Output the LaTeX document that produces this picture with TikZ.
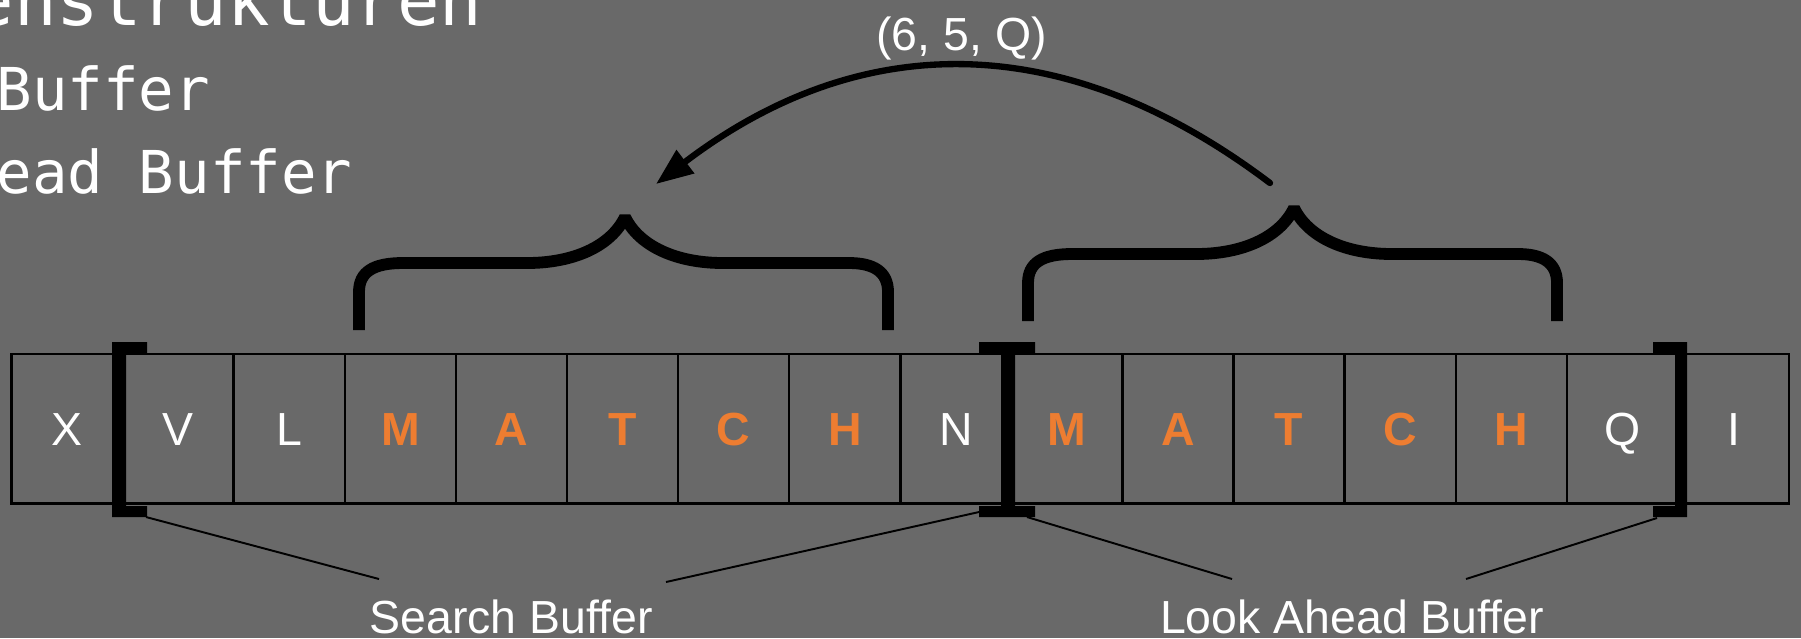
\documentclass[tikz,border=0pt]{standalone}
\usepackage{fontspec}
\setmainfont{Liberation Sans}
\newfontfamily\codefont{DejaVu Sans Mono}
\usetikzlibrary{arrows.meta}
\definecolor{bggray}{RGB}{105,105,105}
\definecolor{hlorange}{RGB}{237,125,49}
\begin{document}
\begin{tikzpicture}[x=0.01cm,y=-0.01cm,
  cell/.style={draw=black,line width=0.7pt,minimum width=1.111cm,minimum height=1.495cm,inner sep=0pt,text height=0.333cm,text depth=0pt,font=\fontsize{13.2}{15}\selectfont,text=white},
  hl/.style={text=hlorange,font=\fontsize{13.2}{15}\selectfont\bfseries},
  lbl/.style={text=white,font=\fontsize{13.2}{15}\selectfont,inner sep=0pt,anchor=base},
  mono/.style={text=white,inner sep=0pt,anchor=base west},
  leader/.style={draw=black,line width=0.55pt},
  bracketfill/.style={fill=black},
  bracestyle/.style={draw=black,line width=3.36pt,line join=bevel},
  arrowstyle/.style={draw=black,line width=1.8pt,line cap=round,-{Triangle[length=0.37cm,width=0.28cm]}},
  curly/.pic={\draw[bracestyle] (0,0) -- (0,-38) .. controls (0,-58) and (14,-67) .. (44,-67) -- (168,-67) .. controls (215,-67) and (252,-84) .. (266,-113) .. controls (280,-84) and (317,-67) .. (364,-67) -- (490,-67) .. controls (515,-67) and (529,-58) .. (529,-38) -- (529,0);}
]
\useasboundingbox (0,0) rectangle (1801,638);
\clip (0,0) rectangle (1801,638);
\fill[bggray] (0,0) rectangle (1801,638);

% heading text (cut at the edge)
\node[mono,font=\codefont\fontsize{20.1}{24}\selectfont] (h0) at (-29,25) {enstrukturen};
\node[mono,font=\codefont\fontsize{16.8}{20}\selectfont] (h1) at (-4,110) {Buffer};
\node[mono,font=\codefont\fontsize{16.8}{20}\selectfont] (h2) at (-4,193) {ead Buffer};

% cells
\node[cell] (c0) at (67.05,428.75) {X};
\node[cell] (c1) at (178.15,428.75) {V};
\node[cell] (c2) at (289.25,428.75) {L};
\node[cell,hl] (c3) at (400.35,428.75) {M};
\node[cell,hl] (c4) at (511.45,428.75) {A};
\node[cell,hl] (c5) at (622.55,428.75) {T};
\node[cell,hl] (c6) at (733.65,428.75) {C};
\node[cell,hl] (c7) at (844.75,428.75) {H};
\node[cell] (c8) at (955.85,428.75) {N};
\node[cell,hl] (c9) at (1066.95,428.75) {M};
\node[cell,hl] (c10) at (1178.05,428.75) {A};
\node[cell,hl] (c11) at (1289.15,428.75) {T};
\node[cell,hl] (c12) at (1400.25,428.75) {C};
\node[cell,hl] (c13) at (1511.35,428.75) {H};
\node[cell] (c14) at (1622.45,428.75) {Q};
\node[cell] (c15) at (1733.55,428.75) {I};

% buffer brackets
\fill[bracketfill] (112,342) -- (147,342) -- (147,353) -- (126,353) -- (126,506) -- (147,506) -- (147,517) -- (112,517) -- cycle;
\fill[bracketfill] (979,342) -- (1035,342) -- (1035,353) -- (1015,353) -- (1015,506) -- (1035,506) -- (1035,517) -- (979,517) -- (979,506) -- (1001,506) -- (1001,353) -- (979,353) -- cycle;
\fill[bracketfill] (1653,342) -- (1687,342) -- (1687,517) -- (1653,517) -- (1653,506) -- (1675,506) -- (1675,353) -- (1653,353) -- cycle;

% labels
\node[lbl] (sb) at (511,633) {Search Buffer};
\node[lbl] (la) at (1352,633) {Look Ahead Buffer};
\node[lbl] (tri) at (961.5,50) {(6, 5, Q)};

% leader lines
\coordinate (lbC) at (146,517);
\coordinate (mbL) at (979,512);
\coordinate (mbR) at (1027,517);
\coordinate (rbC) at (1657,518);
\coordinate (sbA) at (379,579);
\coordinate (sbB) at (666,582);
\coordinate (laA) at (1232,579);
\coordinate (laB) at (1466,579);
\draw[leader] (lbC) -- (sbA);
\draw[leader] (mbL) -- (sbB);
\draw[leader] (mbR) -- (laA);
\draw[leader] (rbC) -- (laB);

% braces
\pic (lbr) at (359,330) {curly};
\pic (rbr) at (1028,321) {curly};

% arrow
\coordinate (arrS) at (1270,183);
\coordinate (arrE) at (656,184);
\draw[arrowstyle] (arrS) .. controls (1065,28) and (861,28) .. (arrE);
\end{tikzpicture}
\end{document}
